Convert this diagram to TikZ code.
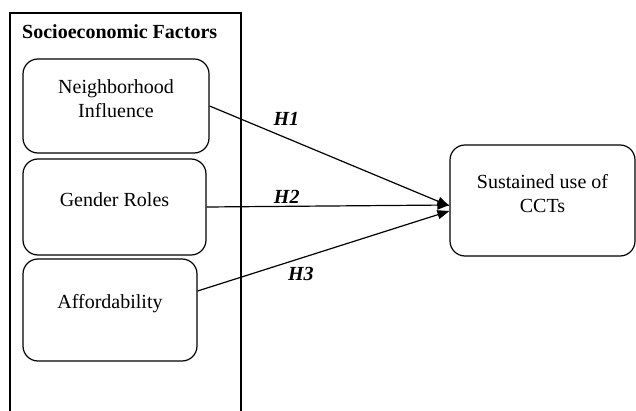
\documentclass[tikz,border=0pt]{standalone}
\usepackage{fontspec}
\setmainfont{Liberation Serif}
\usepackage{tikz}
\usetikzlibrary{arrows.meta}

\begin{document}
\begin{tikzpicture}[x=1pt,y=1pt,
    factor/.style={draw=black, line width=1.2pt, rounded corners=15pt, inner sep=0pt},
    hyp/.style={draw=black, line width=1.2pt, -{Triangle[length=12pt,width=9pt]}},
    hlabel/.style={font=\fontsize{20}{24}\selectfont\bfseries\itshape, inner sep=0pt}]
        \useasboundingbox (0,0) rectangle (636,-411);
        \tikzstyle{every label}+=[font=\fontsize{20}{24}\selectfont, align=center, inner sep=0pt]
        % outer frame
        \draw [black, line width=1.2pt] (10,-420) -- (10,-13) -- (241,-13) -- (241,-420);
        \node [anchor=west, font=\fontsize{20}{24}\selectfont\bfseries, inner sep=0pt] (title) at (22,-32) {Socioeconomic Factors};
        % factors
        \node [factor, minimum width=186, minimum height=94, label={[yshift=7pt]center:Neighborhood\\Influence}] (nbh) at (116,-106) {};
        \node [factor, minimum width=183, minimum height=96, label={[yshift=7pt]center:Gender Roles}] (gen) at (114.5,-207) {};
        \node [factor, minimum width=174, minimum height=102, label={[yshift=6pt]center:Affordability}] (aff) at (110,-310) {};
        % outcome
        \node [factor, minimum width=185, minimum height=111, label={[yshift=7pt]center:Sustained use of\\CCTs}] (sus) at (542.5,-200.5) {};
        % hypotheses
        \draw [hyp] (nbh.east) -- ([yshift=-5.5pt]sus.west) node [hlabel, pos=0.32, above=12pt] {H1};
        \draw [hyp] (gen.east) -- ([yshift=-4.5pt]sus.west) node [hlabel, pos=0.33, above=2pt] {H2};
        \draw [hyp] ([yshift=19pt]aff.east) -- ([yshift=-10.5pt]sus.west) node [hlabel, pos=0.41, below=8pt] {H3};
\end{tikzpicture}
\end{document}
